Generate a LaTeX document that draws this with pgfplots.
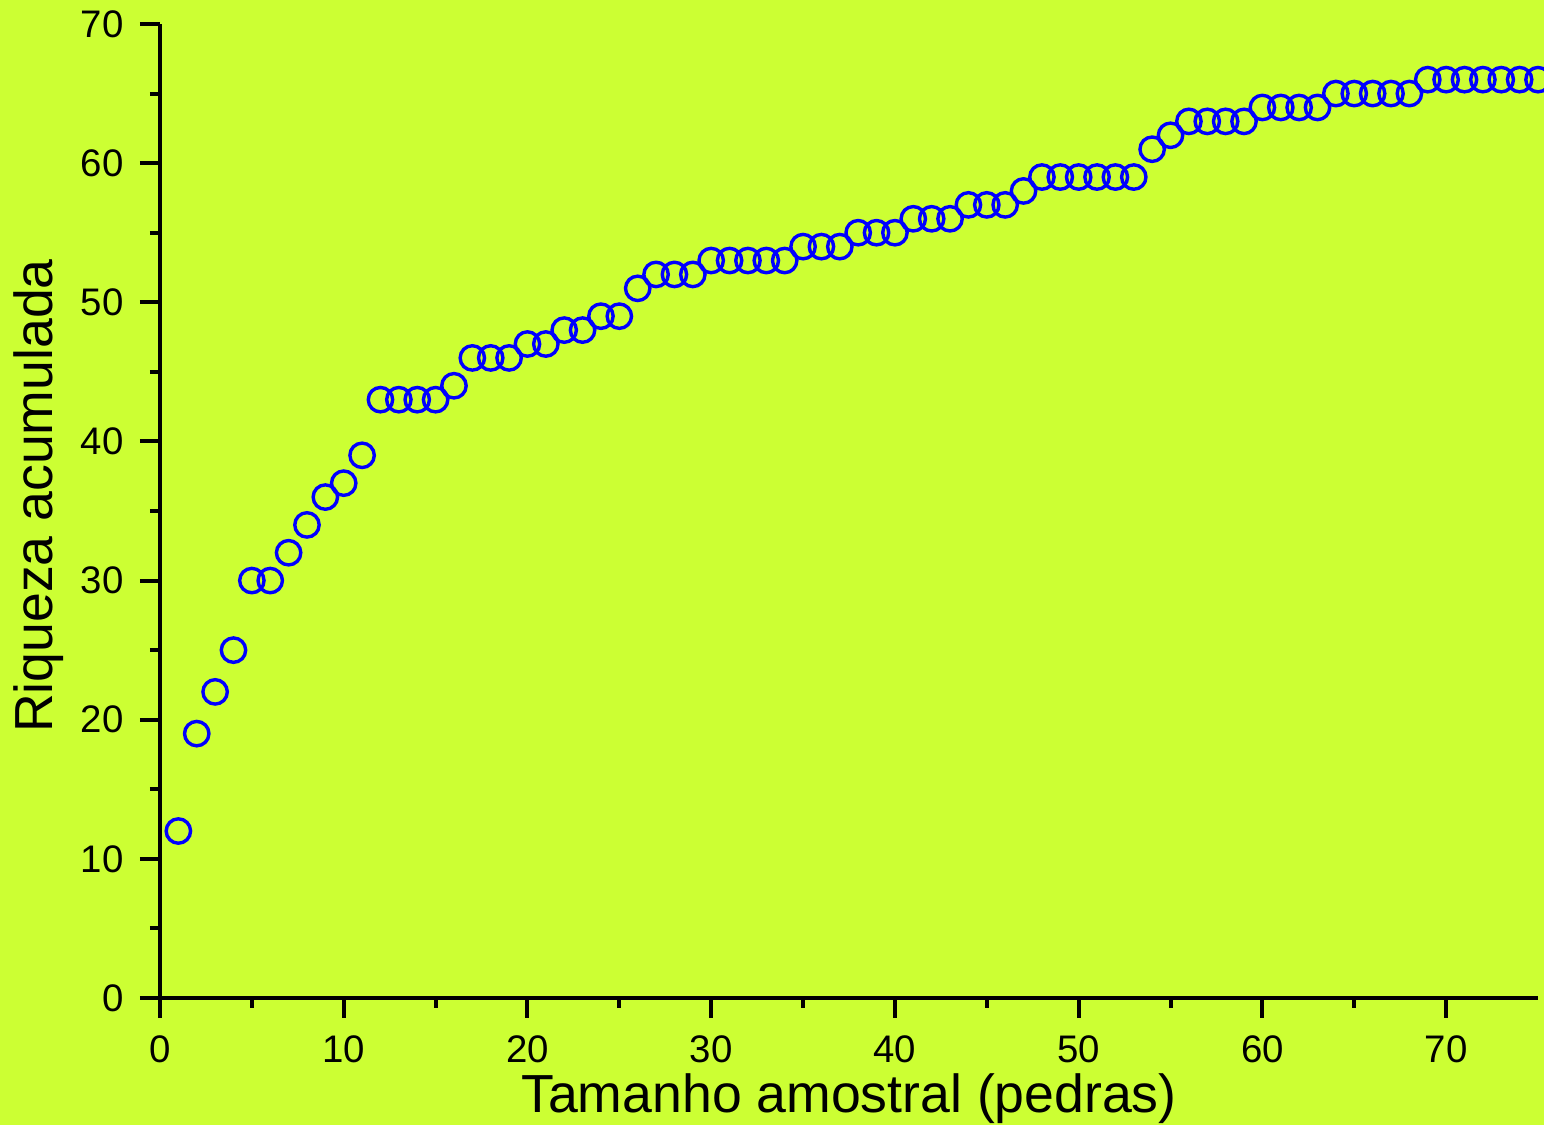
\documentclass[border=0pt]{standalone}
\usepackage{fontspec}
\setmainfont{Liberation Sans}
\usepackage{pgfplots}
\pgfplotsset{compat=1.18}
\usetikzlibrary{calc,backgrounds}
\definecolor{bgc}{HTML}{CCFF33}
\definecolor{ptc}{HTML}{0000FF}

\pgfplotstableread{
x y
1 12
2 19
3 22
4 25
5 30
6 30
7 32
8 34
9 36
10 37
11 39
12 43
13 43
14 43
15 43
16 44
17 46
18 46
19 46
20 47
21 47
22 48
23 48
24 49
25 49
26 51
27 52
28 52
29 52
30 53
31 53
32 53
33 53
34 53
35 54
36 54
37 54
38 55
39 55
40 55
41 56
42 56
43 56
44 57
45 57
46 57
47 58
48 59
49 59
50 59
51 59
52 59
53 59
54 61
55 62
56 63
57 63
58 63
59 63
60 64
61 64
62 64
63 64
64 65
65 65
66 65
67 65
68 65
69 66
70 66
71 66
72 66
73 66
74 66
75 66
}\riqueza

\begin{document}
\begin{tikzpicture}
\begin{axis}[
    name=ax,
    scale only axis,
    width=689pt, height=487pt,
    xmin=0, xmax=75, ymin=0, ymax=70,
    axis lines=left,
    axis line style={-, line width=2pt, black},
    clip=false,
    xtick={0,10,...,70}, ytick={0,10,...,70},
    minor x tick num=1, minor y tick num=1,
    tick align=outside,
    major tick length=10pt, minor tick length=5pt,
    every tick/.style={black, line width=2pt},
    /pgf/number format/assume math mode=true,
    ticklabel style={font=\fontsize{19.2}{20}\selectfont, inner sep=0pt},
    xticklabel style={anchor=north, yshift=-8.5pt},
    yticklabel style={anchor=east, xshift=-8pt},
    label style={font=\fontsize{26.8}{30}\selectfont},
    xlabel={Tamanho amostral (pedras)},
    ylabel={Riqueza acumulada},
    xlabel style={at={(axis description cs:0.5,0)}, anchor=base, yshift=-57.5pt},
    ylabel style={at={($(axis description cs:0,0.5154)+(-53.5pt,0)$)}, anchor=base, rotate=0},
]
\addplot[only marks, mark=o, mark size=6.1pt, mark options={ptc, line width=1.7pt}] table[x=x, y=y] {\riqueza};
\end{axis}
\begin{scope}[on background layer]
\fill[bgc] ($(ax.south west)+(-80pt,-63.5pt)$) rectangle ($(ax.north east)+(3pt,12pt)$);
\end{scope}
\pgfresetboundingbox
\path[use as bounding box] ($(ax.south west)+(-80pt,-63.5pt)$) rectangle ($(ax.north east)+(3pt,12pt)$);
\end{tikzpicture}
\end{document}
